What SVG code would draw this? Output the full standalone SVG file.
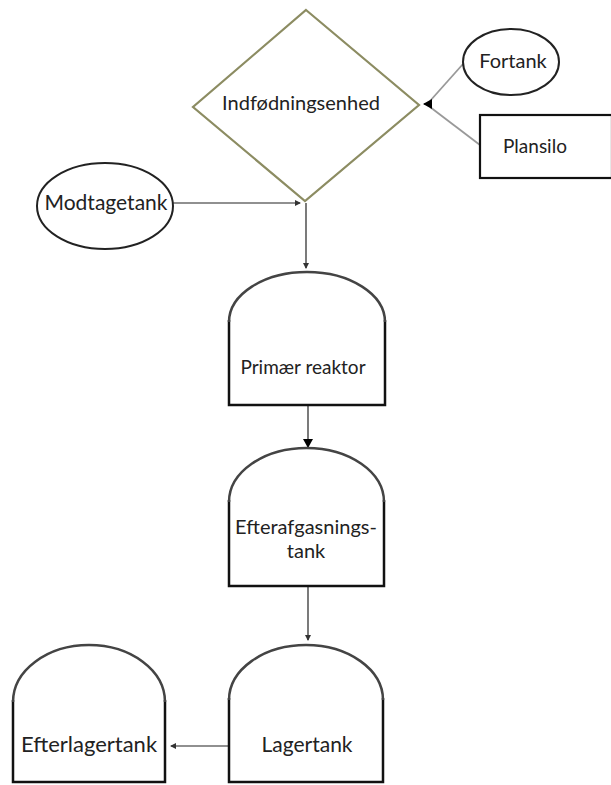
<svg xmlns="http://www.w3.org/2000/svg" width="611" height="785" viewBox="0 0 611 785">
<style>
text{font-family:Lato,"Open Sans","Liberation Sans",sans-serif;fill:#222}
.tank{fill:#fff;stroke:#111;stroke-width:2.5}
.arc{fill:none;stroke:#444;stroke-width:2.5}
.ell{fill:#fff;stroke:#222;stroke-width:2}
.c{fill:none;stroke:#222;stroke-width:1.2}
.g{fill:none;stroke:#999;stroke-width:1.8}
</style>
<defs>
<marker id="ah" markerWidth="6" markerHeight="6" refX="5" refY="3" orient="auto" markerUnits="userSpaceOnUse"><path d="M0,0 L6,3 L0,6 Z" fill="#333"/></marker>
<marker id="big" markerWidth="9" markerHeight="10" refX="8" refY="5" orient="auto" markerUnits="userSpaceOnUse"><path d="M0,0 L9,5 L0,10 Z" fill="#000"/></marker>
</defs>
<g id="connectors">
<line class="g" x1="463" y1="64" x2="430" y2="101"/>
<line class="g" x1="480" y1="145" x2="430" y2="107"/>
<line x1="432" y1="104" x2="424" y2="104" stroke="#000" stroke-width="1" marker-end="url(#big)"/>
<line class="c" x1="173" y1="203" x2="300" y2="203" marker-end="url(#ah)"/>
<line class="c" x1="306" y1="203" x2="306" y2="268" marker-end="url(#ah)"/>
<line class="c" x1="308" y1="405" x2="308" y2="447" marker-end="url(#big)"/>
<line class="c" x1="308" y1="586" x2="308" y2="640" marker-end="url(#ah)"/>
<line class="c" x1="228" y1="746" x2="171" y2="746" marker-end="url(#ah)"/>
</g>
<g id="indfodningsenhed">
<polygon points="306,10 419,105 305,201 193,107" fill="#fff" stroke="#8c8c62" stroke-width="2.2"/>
<text x="301" y="110" font-size="20" text-anchor="middle">Indfødningsenhed</text>
</g>
<g id="fortank">
<ellipse class="ell" cx="511" cy="62" rx="48" ry="33"/>
<text x="513" y="68" font-size="20" text-anchor="middle">Fortank</text>
</g>
<g id="plansilo">
<rect x="480" y="115" width="132" height="63" fill="#fff" stroke="#111" stroke-width="2.2"/>
<text x="503" y="153" font-size="19">Plansilo</text>
</g>
<g id="modtagetank">
<ellipse class="ell" cx="105" cy="206" rx="68" ry="43"/>
<text x="106" y="210" font-size="21" text-anchor="middle">Modtagetank</text>
</g>
<g id="primaer-reaktor">
<path class="tank" d="M229,320 V405 H385 V320"/>
<path class="arc" d="M229,322 A78 50 0 0 1 385,322"/>
<text x="303" y="374" font-size="19" text-anchor="middle">Primær reaktor</text>
</g>
<g id="efterafgasningstank">
<path class="tank" d="M229,500 V586 H384 V500"/>
<path class="arc" d="M229,502 A77.5 54 0 0 1 384,502"/>
<text x="306" y="534" font-size="20" text-anchor="middle">Efterafgasnings-</text>
<text x="306" y="558" font-size="20" text-anchor="middle">tank</text>
</g>
<g id="lagertank">
<path class="tank" d="M229,698 V782 H383 V698"/>
<path class="arc" d="M229,700 A77 55 0 0 1 383,700"/>
<text x="307" y="752" font-size="21" text-anchor="middle">Lagertank</text>
</g>
<g id="efterlagertank">
<path class="tank" d="M13,700 V782 H165 V700"/>
<path class="arc" d="M13,702 A76 57 0 0 1 165,702"/>
<text x="89" y="752" font-size="22" text-anchor="middle">Efterlagertank</text>
</g>
</svg>
